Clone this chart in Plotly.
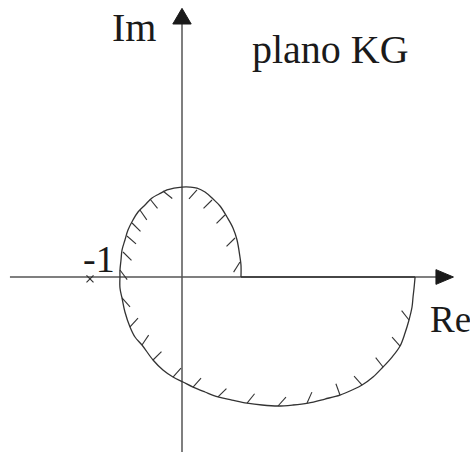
"""
Nyquist sketch on the KG plane: loop through the upper half, big loop below,
closing along the positive real axis, with hatching on the inside.
"""

import math
import plotly.graph_objects as go

# curve, upper loop (from the real axis up over the top to the left crossing)
UPPER_X = [0.641, 0.641, 0.630, 0.598, 0.554, 0.489, 0.413, 0.337, 0.250, 0.163, 0.087, 0.0,
           -0.087, -0.163, -0.250, -0.326, -0.402, -0.478, -0.533, -0.587, -0.620, -0.652,
           -0.663, -0.674, -0.674]
UPPER_Y = [0.0, 0.130, 0.217, 0.402, 0.533, 0.652, 0.772, 0.848, 0.924, 0.967, 0.978, 0.978,
           0.967, 0.946, 0.902, 0.859, 0.783, 0.707, 0.620, 0.511, 0.402, 0.293,
           0.185, 0.076, 0.0]

# curve, lower loop (left crossing, down and round to the right end)
LOWER_X = [-0.674, -0.674, -0.652, -0.620, -0.565, -0.511, -0.435, -0.315, -0.207, -0.098,
           0.011, 0.120, 0.250, 0.391, 0.543, 0.707, 0.870, 1.043, 1.207, 1.370, 1.554,
           1.717, 1.848, 1.957, 2.076, 2.185, 2.283, 2.370, 2.424, 2.467, 2.500, 2.511,
           2.522, 2.533]
LOWER_Y = [0.0, -0.120, -0.228, -0.380, -0.543, -0.652, -0.739, -0.902, -1.011, -1.087,
           -1.141, -1.196, -1.250, -1.304, -1.337, -1.370, -1.391, -1.402, -1.391, -1.370,
           -1.326, -1.283, -1.228, -1.174, -1.087, -0.978, -0.870, -0.750, -0.609, -0.467,
           -0.326, -0.217, -0.120, 0.0]

# closing piece along the real axis
CLOSE_X = [2.533, 0.641]
CLOSE_Y = [0.0, 0.0]

# hatch marks: base point on the curve and direction (degrees)
HATCH_X = [-0.207, -0.348, -0.457, -0.543, -0.598, -0.641, -0.674,
           0.163, 0.326, 0.467, 0.576, 0.630,
           -0.652, -0.565, -0.435, -0.315, -0.098, 0.120, 0.391, 0.707, 1.043, 1.359,
           1.717, 1.957, 2.185, 2.370, 2.467]
HATCH_Y = [0.935, 0.848, 0.728, 0.587, 0.446, 0.272, 0.076,
           0.946, 0.837, 0.674, 0.424, 0.163,
           -0.228, -0.543, -0.739, -0.902, -1.087, -1.196, -1.304, -1.370, -1.402, -1.370,
           -1.283, -1.174, -0.978, -0.750, -0.467]
HATCH_ANGLE = [-39, -51, -55, -45, -41, -45, -53,
               -132, -135, -135, -135, -122,
               -48, 48, 56, 45, 48, 48, 45, 51, 48, 66,
               110, 132, 128, 132, 128]
HATCH_LEN = 0.13

# axes
RE_AXIS = [-1.87, 2.80]
IM_AXIS = [-1.95, 2.76]
RE_ARROW_X = [2.95, 2.76, 2.76, 2.95]
RE_ARROW_Y = [0.0, 0.08, -0.08, 0.0]
IM_ARROW_X = [0.0, -0.10, 0.10, 0.0]
IM_ARROW_Y = [2.92, 2.75, 2.75, 2.92]

CRITICAL_POINT = (-1.0, -0.02)

CURVE_COLOR = "#333333"
AXIS_COLOR = "#555555"
SERIF = "Liberation Serif"


def hatch_segments():
    xs, ys = [], []
    for x, y, a in zip(HATCH_X, HATCH_Y, HATCH_ANGLE):
        r = math.radians(a)
        xs += [x, x + HATCH_LEN * math.cos(r), None]
        ys += [y, y + HATCH_LEN * math.sin(r), None]
    return xs, ys


fig = go.Figure()

# axes lines + arrow heads
fig.add_trace(go.Scatter(x=RE_AXIS, y=[0, 0], mode="lines",
                         line=dict(color=AXIS_COLOR, width=1.5)))
fig.add_trace(go.Scatter(x=[0, 0], y=IM_AXIS, mode="lines",
                         line=dict(color=AXIS_COLOR, width=1.5)))
for ax_x, ax_y in [(RE_ARROW_X, RE_ARROW_Y), (IM_ARROW_X, IM_ARROW_Y)]:
    fig.add_trace(go.Scatter(x=ax_x, y=ax_y, mode="lines", fill="toself",
                             fillcolor="#1a1a1a", line=dict(color="#1a1a1a", width=1)))

# the curve
for cx, cy in [(UPPER_X, UPPER_Y), (LOWER_X, LOWER_Y)]:
    fig.add_trace(go.Scatter(x=cx, y=cy, mode="lines",
                             line=dict(color=CURVE_COLOR, width=1.3, shape="spline", smoothing=1.0)))
fig.add_trace(go.Scatter(x=CLOSE_X, y=CLOSE_Y, mode="lines",
                         line=dict(color=CURVE_COLOR, width=1.6)))

# hatching
hx, hy = hatch_segments()
fig.add_trace(go.Scatter(x=hx, y=hy, mode="lines",
                         line=dict(color=CURVE_COLOR, width=1.1)))

# -1 point
fig.add_trace(go.Scatter(x=[CRITICAL_POINT[0]], y=[CRITICAL_POINT[1]], mode="markers",
                         marker=dict(symbol="x-thin", size=7,
                                     line=dict(color=CURVE_COLOR, width=1.2))))

labels = [
    ("Im", -0.783, 2.715, 40),
    ("plano KG", 0.739, 2.473, 40),
    ("Re", 2.67, -0.462, 37),
    ("-1", -1.10, 0.196, 38),
]
for txt, x, y, size in labels:
    fig.add_annotation(x=x, y=y, text=txt, showarrow=False, xanchor="left", yanchor="middle",
                       font=dict(family=SERIF, size=size, color="#1a1a1a"))

fig.update_layout(
    width=470, height=452,
    margin=dict(l=0, r=0, t=0, b=0),
    paper_bgcolor="white", plot_bgcolor="white",
    showlegend=False,
)
fig.update_xaxes(visible=False, range=[-1.978, 3.130], fixedrange=True)
fig.update_yaxes(visible=False, range=[-1.902, 3.011], fixedrange=True)

# page has the default 8px body margin, drop it so the figure sits at 0,0
fig.write_html("out.html", config={"displayModeBar": False},
               post_script="document.body.style.margin='0';")
